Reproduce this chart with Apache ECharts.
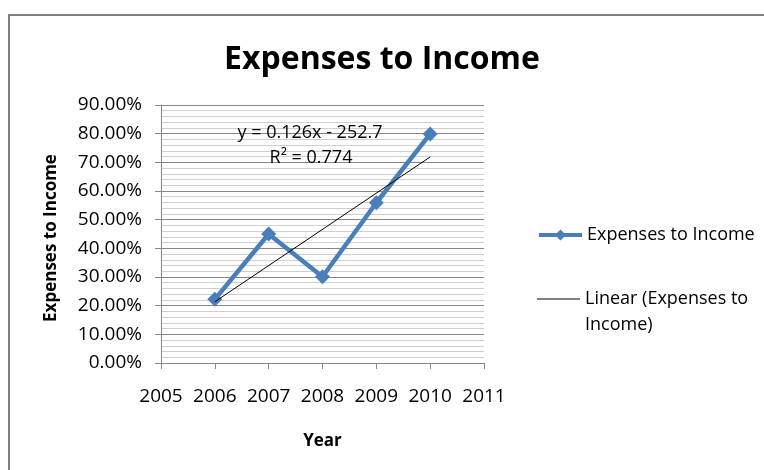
<!DOCTYPE html>
<html>
<head>
<meta charset="utf-8">
<script src="https://cdn.jsdelivr.net/npm/echarts@6/dist/echarts.min.js"></script>
<style>
  html, body { margin: 0; padding: 0; background: #fff; }
  #chart { width: 764px; height: 470px; }
</style>
</head>
<body>
<div id="chart"></div>
<script>
// Expense-to-income ratio by year
const years = [2006, 2007, 2008, 2009, 2010];
const ratios = [0.222, 0.45, 0.301, 0.559, 0.799];
const yTicks = [0, 0.1, 0.2, 0.3, 0.4, 0.5, 0.6, 0.7, 0.8, 0.9];
const xTicks = [2005, 2006, 2007, 2008, 2009, 2010, 2011];
const trendEquation = 'y = 0.126x - 252.7';
const trendR2 = 'R² = 0.774';

// Least-squares line through the ratio points (the linear trendline)
function linearFit(xs, ys) {
  const n = xs.length;
  const mx = xs.reduce((a, b) => a + b, 0) / n;
  const my = ys.reduce((a, b) => a + b, 0) / n;
  let sxy = 0, sxx = 0;
  for (let i = 0; i < n; i++) {
    sxy += (xs[i] - mx) * (ys[i] - my);
    sxx += (xs[i] - mx) * (xs[i] - mx);
  }
  const slope = sxy / sxx;
  return x => my + slope * (x - mx);
}
const fit = linearFit(years, ratios);
const trendPoints = [years[0], years[years.length - 1]].map(x => [x, fit(x)]);

const FONT = 'Open Sans';
const chart = echarts.init(document.getElementById('chart'));

chart.setOption({
  backgroundColor: '#ffffff',
  animation: false,
  textStyle: { fontFamily: FONT },
  title: {
    text: 'Expenses to Income',
    left: 'center',
    top: 39,
    textStyle: { fontFamily: FONT, fontSize: 32, fontWeight: 'bold', color: '#000' }
  },
  grid: { left: 161, right: 280, top: 105, bottom: 107 },
  xAxis: {
    type: 'value',
    min: xTicks[0],
    max: xTicks[xTicks.length - 1],
    interval: 1,
    name: 'Year',
    nameLocation: 'middle',
    nameGap: 70,
    nameTextStyle: { fontFamily: FONT, fontSize: 17, fontWeight: 'bold', color: '#000' },
    axisLine: { lineStyle: { color: '#868686', width: 1 } },
    axisTick: { show: true, inside: false, length: 6, lineStyle: { color: '#868686' } },
    axisLabel: { fontFamily: FONT, fontSize: 19, color: '#000', margin: 24, formatter: v => String(v) },
    splitLine: { show: false }
  },
  yAxis: {
    type: 'value',
    min: yTicks[0],
    max: yTicks[yTicks.length - 1],
    interval: 0.1,
    name: 'Expenses to Income',
    nameLocation: 'middle',
    nameRotate: 90,
    nameGap: 101,
    nameTextStyle: {
      fontFamily: FONT, fontSize: 17, fontWeight: 'bold', color: '#000',
      padding: [0, 8, 0, 0]
    },
    axisLine: { show: true, lineStyle: { color: '#868686', width: 1 } },
    axisTick: { show: true, inside: false, length: 6, lineStyle: { color: '#868686' } },
    axisLabel: {
      fontFamily: FONT, fontSize: 19, color: '#000', margin: 19,
      formatter: v => (v * 100).toFixed(2) + '%'
    },
    splitLine: { show: true, lineStyle: { color: '#868686', width: 1 } },
    minorTick: { show: false, splitNumber: 5 },
    minorSplitLine: { show: true, lineStyle: { color: '#cfcfcf', width: 1 } }
  },
  legend: [
    {
      orient: 'vertical',
      left: 537,
      top: 226,
      padding: 0,
      itemWidth: 43,
      itemHeight: 14,
      itemGap: 5,
      lineStyle: { width: 4 },
      textStyle: { fontFamily: FONT, fontSize: 18, color: '#000' },
      data: ['Expenses to Income']
    },
    {
      orient: 'vertical',
      left: 537,
      top: 260,
      padding: 0,
      icon: 'rect',
      itemWidth: 43,
      itemHeight: 1,
      itemGap: 5,
      textStyle: { fontFamily: FONT, fontSize: 18, color: '#000', lineHeight: 26 },
      // blank first line keeps the icon level with the first text line
      formatter: () => '\nLinear (Expenses to\nIncome)',
      data: ['Linear (Expenses to Income)']
    }
  ],
  graphic: [
    {
      type: 'rect',
      shape: { x: 9, y: 15, width: 800, height: 500 },
      style: { fill: 'none', stroke: '#808080', lineWidth: 2 },
      silent: true,
      z: -10
    },
    {
      type: 'text',
      x: 310,
      y: 133,
      style: {
        text: trendEquation, fontFamily: FONT, fontSize: 18, fill: '#000',
        align: 'center', verticalAlign: 'middle'
      },
      z: 100
    },
    {
      type: 'text',
      x: 311,
      y: 158,
      style: {
        text: trendR2, fontFamily: FONT, fontSize: 18, fill: '#000',
        align: 'center', verticalAlign: 'middle'
      },
      z: 100
    }
  ],
  series: [
    {
      name: 'Expenses to Income',
      type: 'line',
      data: years.map((y, i) => [y, ratios[i]]),
      symbol: 'diamond',
      symbolSize: 15,
      itemStyle: { color: '#4a7ebb' },
      lineStyle: { color: '#4a7ebb', width: 4.5 },
      z: 3
    },
    {
      name: 'Linear (Expenses to Income)',
      type: 'line',
      data: trendPoints,
      symbol: 'none',
      lineStyle: { color: '#000', width: 1 },
      itemStyle: { color: '#000' },
      z: 4
    }
  ]
});
</script>
</body>
</html>
